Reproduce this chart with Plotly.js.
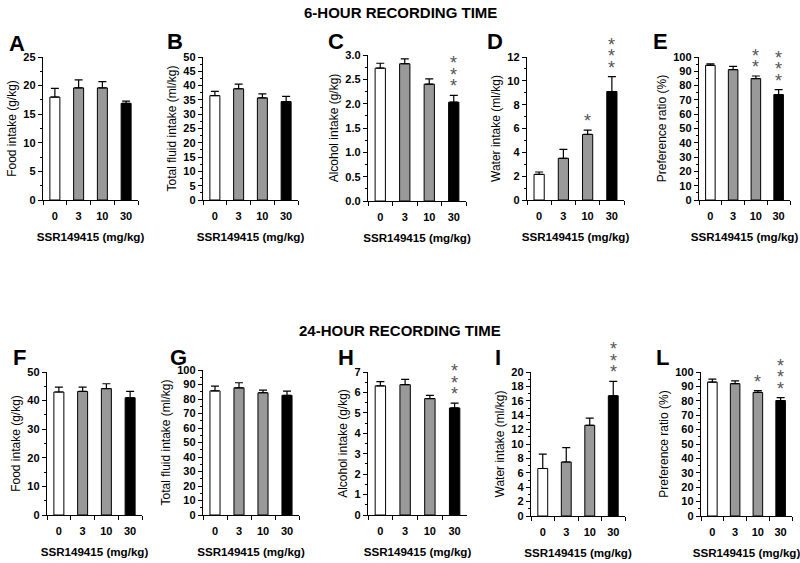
<!DOCTYPE html>
<html>
<head>
<meta charset="utf-8">
<script src="https://cdn.plot.ly/plotly-3.0.1.min.js"></script>
<style>
  body { margin: 0; background: #fff; }
  #chart { width: 800px; height: 563px; }
</style>
</head>
<body>
<div id="chart"></div>
<script>
// doses of SSR149415 and bar fills (vehicle white, low doses grey, top dose black)
const doses = ['0', '3', '10', '30'];
const barFill = ['#ffffff', '#999999', '#999999', '#000000'];

// 6-hour recording time
const foodSix = [18.0, 19.6, 19.6, 16.9];
const foodSixErr = [1.5, 1.4, 1.1, 0.4];
const fluidSix = [36.5, 38.9, 35.7, 34.4];
const fluidSixErr = [1.5, 1.6, 1.4, 1.8];
const alcoholSix = [2.73, 2.82, 2.40, 2.03];
const alcoholSixErr = [0.10, 0.10, 0.11, 0.14];
const alcoholSixStars = [0, 0, 0, 3];
const waterSix = [2.15, 3.5, 5.5, 9.1];
const waterSixErr = [0.2, 0.75, 0.37, 1.25];
const waterSixStars = [0, 0, 1, 3];
const prefSix = [94.2, 91.2, 84.9, 73.7];
const prefSixErr = [1.0, 2.2, 1.8, 3.5];
const prefSixStars = [0, 0, 2, 3];

// 24-hour recording time
const foodDay = [43.0, 43.2, 44.2, 41.0];
const foodDayErr = [1.7, 1.5, 1.7, 2.2];
const fluidDay = [85.6, 87.7, 84.3, 82.5];
const fluidDayErr = [3.3, 3.5, 1.8, 3.0];
const alcoholDay = [6.32, 6.38, 5.70, 5.24];
const alcoholDayErr = [0.21, 0.26, 0.16, 0.24];
const alcoholDayStars = [0, 0, 0, 3];
const waterDay = [6.6, 7.5, 12.6, 16.7];
const waterDayErr = [2.0, 2.0, 1.0, 2.0];
const waterDayStars = [0, 0, 0, 3];
const prefDay = [93.0, 91.9, 85.8, 80.2];
const prefDayErr = [2.0, 2.0, 1.2, 2.0];
const prefDayStars = [0, 0, 1, 3];

const noStars = [0, 0, 0, 0];

// panel setup: pixel extents of each plot box (x from left, y from top)
const W = 800, H = 563;
const panels = [
    { letter: 'A', y: foodSix, err: foodSixErr, stars: noStars, title: 'Food intake (g/kg)', range: [0, 25], dtick: 5, minor: 2.5, fmt: '', px: [43, 138], py: [57, 200], lx: 17, ly: 43 },
    { letter: 'B', y: fluidSix, err: fluidSixErr, stars: noStars, title: 'Total fluid intake (ml/kg)', range: [0, 50], dtick: 5, minor: 2.5, fmt: '', px: [203, 298], py: [57, 200], lx: 175, ly: 42 },
    { letter: 'C', y: alcoholSix, err: alcoholSixErr, stars: alcoholSixStars, title: 'Alcohol intake (g/kg)', range: [0, 3], dtick: 0.5, minor: 0.25, fmt: '.1f', px: [368, 466], py: [55, 201], lx: 336, ly: 42 },
    { letter: 'D', y: waterSix, err: waterSixErr, stars: waterSixStars, title: 'Water intake (ml/kg)', range: [0, 12], dtick: 2, minor: 1, fmt: '', px: [527, 624], py: [57, 200], lx: 495, ly: 42 },
    { letter: 'E', y: prefSix, err: prefSixErr, stars: prefSixStars, title: 'Preference ratio (%)', range: [0, 100], dtick: 10, minor: 5, fmt: '', px: [699, 790], py: [57, 200], lx: 660, ly: 42 },
    { letter: 'F', y: foodDay, err: foodDayErr, stars: noStars, title: 'Food intake (g/kg)', range: [0, 50], dtick: 10, minor: 5, fmt: '', px: [47, 142], py: [372, 515], lx: 19, ly: 358 },
    { letter: 'G', y: fluidDay, err: fluidDayErr, stars: noStars, title: 'Total fluid intake (ml/kg)', range: [0, 100], dtick: 10, minor: 5, fmt: '', px: [203, 299], py: [370, 515], lx: 178, ly: 358 },
    { letter: 'H', y: alcoholDay, err: alcoholDayErr, stars: alcoholDayStars, title: 'Alcohol intake (g/kg)', range: [0, 7], dtick: 1, minor: 0.5, fmt: '', px: [368, 467], py: [372, 515], lx: 346, ly: 358 },
    { letter: 'I', y: waterDay, err: waterDayErr, stars: waterDayStars, title: 'Water intake (ml/kg)', range: [0, 20], dtick: 2, minor: 1, fmt: '', px: [531, 625], py: [372, 516], lx: 498, ly: 358 },
    { letter: 'L', y: prefDay, err: prefDayErr, stars: prefDayStars, title: 'Preference ratio (%)', range: [0, 100], dtick: 10, minor: 5, fmt: '', px: [701, 792], py: [372, 516], lx: 662, ly: 358 }
];

const tickFont = { family: 'Liberation Sans, Arial', size: 11, color: '#000', weight: 'bold' };

let data = [];
let layout = {
    width: W, height: H,
    margin: { l: 0, r: 0, t: 0, b: 0 },
    paper_bgcolor: '#fff', plot_bgcolor: '#fff',
    showlegend: false,
    bargap: 0.58,
    font: { family: 'Liberation Sans, Arial', color: '#000' },
    annotations: [
        { text: '6-HOUR RECORDING TIME', xref: 'paper', yref: 'paper', x: 400 / W, y: 1 - 13 / H, xanchor: 'center', yanchor: 'middle', showarrow: false, font: { size: 15, weight: 'bold' } },
        { text: '24-HOUR RECORDING TIME', xref: 'paper', yref: 'paper', x: 400 / W, y: 1 - 330 / H, xanchor: 'center', yanchor: 'middle', showarrow: false, font: { size: 15, weight: 'bold' } }
    ]
};

panels.forEach((p, i) => {
    let n = i + 1;
    let xa = n === 1 ? 'x' : 'x' + n;
    let ya = n === 1 ? 'y' : 'y' + n;

    data.push({
        type: 'bar',
        x: doses, y: p.y,
        xaxis: xa, yaxis: ya,
        marker: { color: barFill, line: { color: '#000', width: 1 } },
        error_y: { type: 'data', symmetric: false, array: p.err, arrayminus: [0, 0, 0, 0], color: '#000', thickness: 1.2, width: 4 },
        hoverinfo: 'skip'
    });

    layout['xaxis' + (n === 1 ? '' : n)] = {
        anchor: ya,
        domain: [p.px[0] / W, p.px[1] / W],
        type: 'category',
        range: [-0.5, doses.length - 0.5],
        tickson: 'boundaries',
        ticks: 'outside', ticklen: 4, tickcolor: '#000',
        ticklabelstandoff: 6,
        showline: true, linecolor: '#000', linewidth: 1.2,
        showgrid: false, zeroline: false,
        tickfont: tickFont,
        title: { text: 'SSR149415 (mg/kg)', font: { size: 11.6, weight: 'bold' }, standoff: 11 },
        automargin: false, fixedrange: true
    };
    layout['yaxis' + (n === 1 ? '' : n)] = {
        anchor: xa,
        domain: [1 - p.py[1] / H, 1 - p.py[0] / H],
        range: p.range, dtick: p.dtick, tickformat: p.fmt,
        ticks: 'outside', ticklen: 4, tickcolor: '#000',
        minor: { dtick: p.minor, ticks: 'outside', ticklen: 2, tickcolor: '#000', showgrid: false },
        showline: true, linecolor: '#000', linewidth: 1.2,
        showgrid: false, zeroline: false,
        tickfont: tickFont,
        title: { text: p.title, font: { size: 12 }, standoff: 4 },
        automargin: false, fixedrange: true
    };

    // panel letter
    layout.annotations.push({
        text: p.letter, xref: 'paper', yref: 'paper',
        x: p.lx / W, y: 1 - p.ly / H, xanchor: 'center', yanchor: 'middle', showarrow: false,
        font: { size: 22, weight: 'bold' }
    });

    // significance stars above the error bars (x uses the category index)
    p.stars.forEach((count, j) => {
        for (let k = 0; k < count; k++) {
            layout.annotations.push({
                text: '*', xref: xa, yref: ya,
                x: j, y: p.y[j] + p.err[j],
                xanchor: 'center', yanchor: 'middle',
                yshift: 9 + k * 11.5, showarrow: false,
                font: { size: 18, color: '#555' }
            });
        }
    });
});

Plotly.newPlot('chart', data, layout, { staticPlot: true });
</script>
</body>
</html>
